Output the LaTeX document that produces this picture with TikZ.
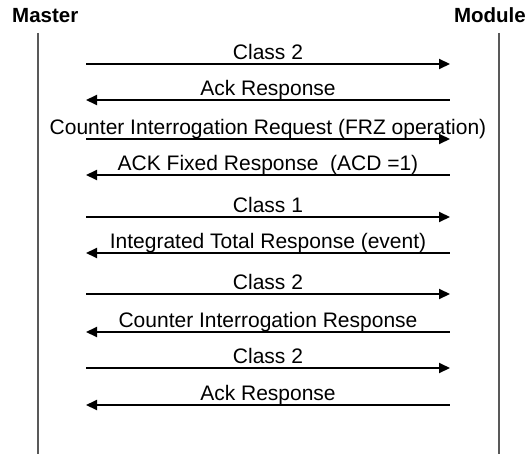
\documentclass[tikz,border=0pt]{standalone}
\usepackage{fontspec}
\setmainfont{Liberation Sans}
\usetikzlibrary{arrows.meta}

\begin{document}
\begin{tikzpicture}[
  x=1pt, y=-1pt,
  actor/.style={font=\fontsize{20.5}{24}\selectfont\bfseries, inner sep=0pt},
  lifeline/.style={draw=black!65, line width=1.2pt},
  msg/.style={draw, line width=2pt},
  tomodule/.style={-{Triangle[length=11pt, width=10pt]}},
  tomaster/.style={{Triangle[length=11pt, width=10pt]}-},
  lbl/.style={font=\fontsize{21}{25}\selectfont, inner sep=0pt, anchor=base, yshift=4.5pt}
]
\useasboundingbox (0,0) rectangle (526,454);
\node [actor, anchor=base west] (master) at (12,23) {Master};
\node [actor, anchor=base east] (module) at (526,23) {Module};
\coordinate (mastertop) at (38,33);
\coordinate (masterbot) at (38,454);
\coordinate (moduletop) at (499,33);
\coordinate (modulebot) at (499,454);
\draw [lifeline] (mastertop) -- (masterbot);
\draw [lifeline] (moduletop) -- (modulebot);

\foreach \y/\dir/\txt [count=\i] in {
    64/tomodule/Class 2,
    100/tomaster/Ack Response,
    139/tomodule/Counter Interrogation Request (FRZ operation),
    175/tomaster/ACK Fixed Response\ \ (ACD =1),
    217/tomodule/Class 1,
    253/tomaster/Integrated Total Response (event),
    294/tomodule/Class 2,
    332/tomaster/Counter Interrogation Response,
    368/tomodule/Class 2,
    405/tomaster/Ack Response}
{
  \coordinate (a\i) at (86,\y);
  \coordinate (b\i) at (450,\y);
  \draw [msg, \dir] (a\i) -- node [lbl] {\txt} (b\i);
}
\end{tikzpicture}
\end{document}
